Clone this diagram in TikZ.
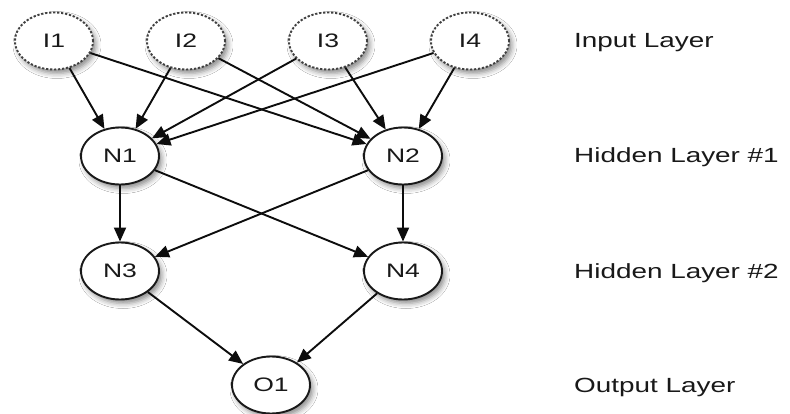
\documentclass[tikz,border=0pt]{standalone}
\usepackage{fontspec}
\setmainfont{Liberation Sans}
\usetikzlibrary{arrows.meta,shapes.geometric,shadows.blur}
\tikzset{
  neuron/.style={ellipse, draw=black!90, line width=1.9pt, fill=white,
    minimum width=78pt, minimum height=57pt, inner sep=0pt,
    blur shadow={shadow xshift=3pt, shadow yshift=-4pt, shadow blur radius=5pt, shadow opacity=45},
    font=\fontsize{19.5}{22}\selectfont, text=black!90},
  inneuron/.style={neuron, dash pattern=on 2.2pt off 1.8pt, draw=black!75},
  conn/.style={line width=1.9pt, draw=black!95, -{Triangle[length=14pt,width=12pt]}},
  layerlabel/.style={anchor=base west, inner sep=0pt, font=\fontsize{20.5}{24}\selectfont, text=black!90}
}
\newcommand{\widetxt}[1]{\scalebox{1.36}[1]{#1}}
\begin{document}
\begin{tikzpicture}[x=1pt,y=-1pt]
\useasboundingbox (0,0) rectangle (790,414);
\fill[white] (0,0) rectangle (790,414);
% input layer
\node[inneuron] (i1) at (54,41) {\widetxt{I1}};
\node[inneuron] (i2) at (186,41) {\widetxt{I2}};
\node[inneuron] (i3) at (328,41) {\widetxt{I3}};
\node[inneuron] (i4) at (470,41) {\widetxt{I4}};
% hidden 1
\node[neuron] (n1) at (120,156) {\widetxt{N1}};
\node[neuron] (n2) at (403,156) {\widetxt{N2}};
% hidden 2
\node[neuron] (n3) at (120,271) {\widetxt{N3}};
\node[neuron] (n4) at (403,271) {\widetxt{N4}};
% output
\node[neuron] (o1) at (271,385) {\widetxt{O1}};
% connectors
\draw[conn] (i1) -- (n1);
\draw[conn] (i1) -- (n2);
\draw[conn] (i2) -- (n1);
\draw[conn] (i2) -- (n2);
\draw[conn] (i3) -- (n1);
\draw[conn] (i3) -- (n2);
\draw[conn] (i4) -- (n1);
\draw[conn] (i4) -- (n2);
\draw[conn] (n1) -- (n3);
\draw[conn] (n1) -- (n4);
\draw[conn] (n2) -- (n3);
\draw[conn] (n2) -- (n4);
\draw[conn] (n3) -- (o1);
\draw[conn] (n4) -- (o1);
% labels
\node[layerlabel] (l1) at (574,48) {\widetxt{Input Layer}};
\node[layerlabel] (l2) at (574,163) {\widetxt{Hidden Layer \#1}};
\node[layerlabel] (l3) at (574,278) {\widetxt{Hidden Layer \#2}};
\node[layerlabel] (l4) at (574,392) {\widetxt{Output Layer}};
\end{tikzpicture}
\end{document}
